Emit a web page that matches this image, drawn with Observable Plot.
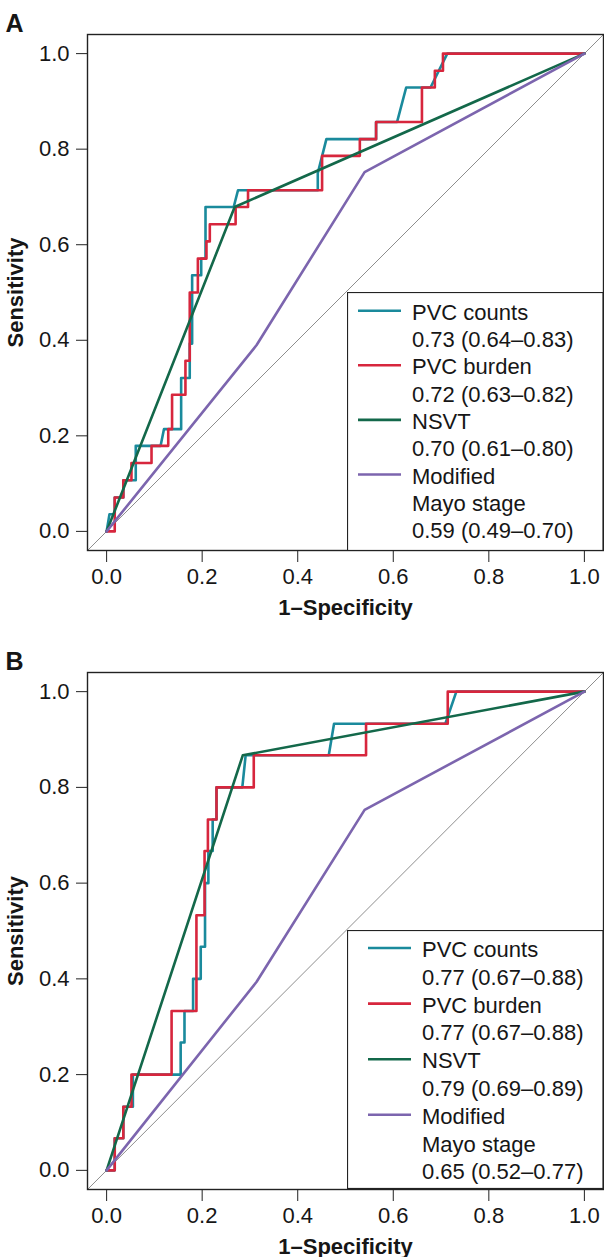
<!DOCTYPE html>
<html><head><meta charset="utf-8">
<script src="https://cdn.jsdelivr.net/npm/d3@7"></script>
<script src="https://cdn.jsdelivr.net/npm/@observablehq/plot@0.6"></script>
<style>
html,body{margin:0;padding:0;background:#fff;}
#root{width:604px;}
.panel{position:relative;width:604px;}
.panel > svg{display:block;}
.legend{position:absolute;font-family:"Liberation Sans",Arial,sans-serif;font-size:22px;}
</style></head><body><div id="root"></div>
<script>
// ---- shared ----
const seriesNames = ["PVC counts", "PVC burden", "NSVT", "Modified Mayo stage"];
const seriesColors = ["#1a8a9c", "#d7263d", "#13684a", "#7c65ae"];
const legendNameLines = [["PVC counts"], ["PVC burden"], ["NSVT"], ["Modified", "Mayo stage"]];
const xTicks = [0, 0.2, 0.4, 0.6, 0.8, 1.0];
const yTicks = [0, 0.2, 0.4, 0.6, 0.8, 1.0];
const axisDomain = [-0.04, 1.04];
const xTitle = "1–Specificity";
const yTitle = "Sensitivity";
const panelLetters = ["A", "B"];

// ---- panel A ----
const aucA = ["0.73 (0.64–0.83)", "0.72 (0.63–0.82)", "0.70 (0.61–0.80)", "0.59 (0.49–0.70)"];
const aCountsFpr = [0, 0.006, 0.017, 0.017, 0.035, 0.035, 0.061, 0.061, 0.113, 0.120, 0.156, 0.156, 0.174, 0.174, 0.179, 0.179, 0.198, 0.198, 0.207, 0.207, 0.266, 0.275, 0.442, 0.442, 0.460, 0.564, 0.564, 0.608, 0.627, 0.678, 0.713, 1];
const aCountsTpr = [0, 0.036, 0.036, 0.071, 0.071, 0.107, 0.107, 0.179, 0.179, 0.214, 0.214, 0.321, 0.321, 0.393, 0.393, 0.536, 0.536, 0.571, 0.571, 0.679, 0.679, 0.714, 0.714, 0.750, 0.821, 0.821, 0.857, 0.857, 0.929, 0.929, 1, 1];
const aBurdenFpr = [0, 0.017, 0.017, 0.035, 0.035, 0.052, 0.052, 0.094, 0.094, 0.129, 0.129, 0.137, 0.137, 0.165, 0.165, 0.174, 0.174, 0.191, 0.191, 0.209, 0.209, 0.216, 0.216, 0.270, 0.270, 0.296, 0.296, 0.451, 0.451, 0.530, 0.530, 0.564, 0.564, 0.660, 0.660, 0.687, 0.687, 0.704, 0.704, 1];
const aBurdenTpr = [0, 0, 0.071, 0.071, 0.107, 0.107, 0.143, 0.143, 0.179, 0.179, 0.214, 0.214, 0.286, 0.286, 0.357, 0.357, 0.500, 0.500, 0.571, 0.571, 0.607, 0.607, 0.643, 0.643, 0.679, 0.679, 0.714, 0.714, 0.786, 0.786, 0.821, 0.821, 0.857, 0.857, 0.929, 0.929, 0.964, 0.964, 1, 1];
const aNsvtFpr = [0, 0.268, 1];
const aNsvtTpr = [0, 0.679, 1];
const aMayoFpr = [0, 0.314, 0.540, 1];
const aMayoTpr = [0, 0.390, 0.752, 1];

// ---- panel B ----
const aucB = ["0.77 (0.67–0.88)", "0.77 (0.67–0.88)", "0.79 (0.69–0.89)", "0.65 (0.52–0.77)"];
const bCountsFpr = [0, 0.017, 0.017, 0.035, 0.035, 0.055, 0.055, 0.155, 0.155, 0.163, 0.163, 0.181, 0.181, 0.197, 0.197, 0.206, 0.206, 0.213, 0.213, 0.222, 0.222, 0.230, 0.230, 0.284, 0.291, 0.465, 0.476, 0.709, 0.732, 1];
const bCountsTpr = [0, 0, 0.067, 0.067, 0.133, 0.133, 0.200, 0.200, 0.267, 0.267, 0.333, 0.333, 0.400, 0.400, 0.467, 0.467, 0.600, 0.600, 0.667, 0.667, 0.733, 0.733, 0.800, 0.800, 0.867, 0.867, 0.933, 0.933, 1, 1];
const bBurdenFpr = [0, 0.017, 0.017, 0.035, 0.035, 0.052, 0.052, 0.136, 0.136, 0.188, 0.188, 0.205, 0.205, 0.212, 0.212, 0.230, 0.230, 0.308, 0.308, 0.543, 0.543, 0.714, 0.714, 1];
const bBurdenTpr = [0, 0, 0.067, 0.067, 0.133, 0.133, 0.200, 0.200, 0.333, 0.333, 0.533, 0.533, 0.667, 0.667, 0.733, 0.733, 0.800, 0.800, 0.867, 0.867, 0.933, 0.933, 1, 1];
const bNsvtFpr = [0, 0.285, 1];
const bNsvtTpr = [0, 0.867, 1];
const bMayoFpr = [0, 0.314, 0.540, 1];
const bMayoTpr = [0, 0.394, 0.753, 1];

function rows(name, fpr, tpr) {
  return fpr.map((x, i) => ({series: name, fpr: x, tpr: tpr[i]}));
}

const panels = [
  {letter: panelLetters[0], auc: aucA, height: 638, marginBottom: 88,
   legend: {top: 292, textX: 65, lineX1: 11, lineX2: 54, first: 27.7, step: 27.3},
   data: [
     ...rows(seriesNames[0], aCountsFpr, aCountsTpr),
     ...rows(seriesNames[1], aBurdenFpr, aBurdenTpr),
     ...rows(seriesNames[2], aNsvtFpr, aNsvtTpr),
     ...rows(seriesNames[3], aMayoFpr, aMayoTpr)]},
  {letter: panelLetters[1], auc: aucB, height: 619, marginBottom: 68,
   legend: {top: 292, textX: 75, lineX1: 21, lineX2: 64, first: 27, step: 27.8},
   data: [
     ...rows(seriesNames[0], bCountsFpr, bCountsTpr),
     ...rows(seriesNames[1], bBurdenFpr, bBurdenTpr),
     ...rows(seriesNames[2], bNsvtFpr, bNsvtTpr),
     ...rows(seriesNames[3], bMayoFpr, bMayoTpr)]}
];

const root = document.getElementById("root");
for (const p of panels) {
  const div = document.createElement("div");
  div.className = "panel";
  root.appendChild(div);
  const chart = Plot.plot({
    width: 604, height: p.height,
    marginTop: 34, marginBottom: p.marginBottom, marginLeft: 87, marginRight: 1,
    style: {fontFamily: "'Liberation Sans', Arial, sans-serif", fontSize: "22px", color: "#161616", background: "white", overflow: "visible"},
    x: {domain: axisDomain},
    y: {domain: axisDomain},
    color: {domain: seriesNames, range: seriesColors},
    marks: [
      Plot.line(axisDomain, {x: d => d, y: d => d, stroke: "#8e8e8e", strokeWidth: 1, clip: true}),
      Plot.line(p.data, {x: "fpr", y: "tpr", z: "series", stroke: "series", strokeWidth: 2.6}),
      Plot.frame({stroke: "#222", strokeWidth: 1.4}),
      Plot.axisX({ticks: xTicks, tickFormat: d => d.toFixed(1), tickSize: 12, tickPadding: 6, label: null, stroke: "#222"}),
      Plot.axisY({ticks: yTicks, tickFormat: d => d.toFixed(1), tickSize: 11, tickPadding: 7, label: null, stroke: "#222"}),
      Plot.text([xTitle], {frameAnchor: "bottom", dy: 57, textAnchor: "middle", lineAnchor: "middle", fontWeight: "bold"}),
      Plot.text([yTitle], {frameAnchor: "left", dx: -72, rotate: -90, textAnchor: "middle", lineAnchor: "middle", fontWeight: "bold"}),
      Plot.text([p.letter], {frameAnchor: "top-left", dx: -82, dy: -11, textAnchor: "start", lineAnchor: "middle", fontWeight: "bold", fontSize: 25})
    ]
  });
  div.appendChild(chart);

  // legend box
  const L = p.legend;
  const svg = d3.select(div).append("svg").attr("class", "legend")
    .style("left", "347px").style("top", L.top + "px")
    .attr("width", 257).attr("height", 259);
  svg.append("rect").attr("x", 0.5).attr("y", 0.5).attr("width", 255.5).attr("height", 258)
    .attr("fill", "white").attr("stroke", "#222").attr("stroke-width", 1.2);
  let row = 0;
  legendNameLines.forEach((lines, i) => {
    const base = L.first + row * L.step;
    svg.append("line").attr("x1", L.lineX1).attr("x2", L.lineX2)
      .attr("y1", base - 9).attr("y2", base - 9)
      .attr("stroke", seriesColors[i]).attr("stroke-width", 2.6);
    [...lines, p.auc[i]].forEach(t => {
      svg.append("text").attr("x", L.textX).attr("y", L.first + row * L.step)
        .attr("fill", "#161616").text(t);
      row++;
    });
  });
}
</script></body></html>
